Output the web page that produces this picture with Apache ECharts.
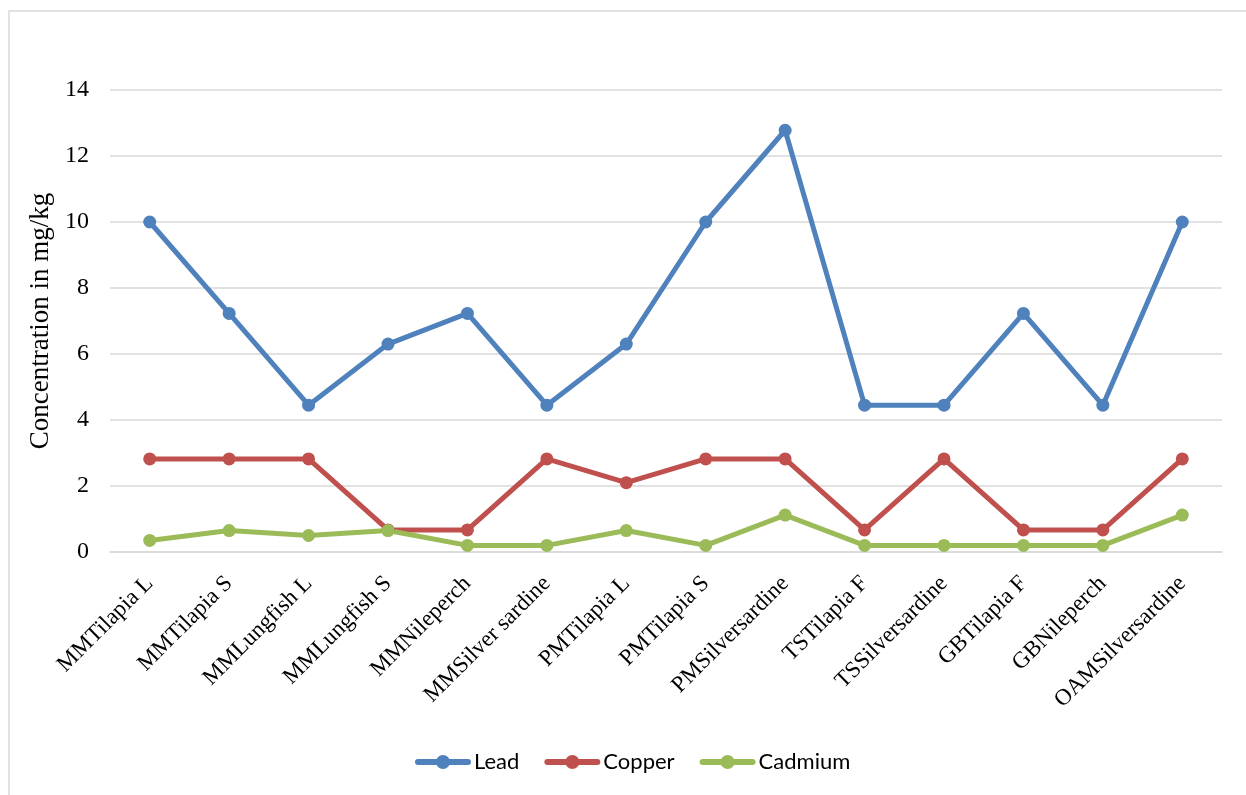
<!DOCTYPE html>
<html>
<head>
<meta charset="utf-8">
<script src="https://cdn.jsdelivr.net/npm/echarts@6/dist/echarts.min.js"></script>
<style>
  html, body { margin: 0; padding: 0; background: #fff; }
  #chart { width: 1246px; height: 795px; }
</style>
</head>
<body>
<div id="chart"></div>
<script>
// Heavy-metal concentration per fish sample (mg/kg)
const categories = [
  'MMTilapia L', 'MMTilapia S', 'MMLungfish L', 'MMLungfish S', 'MMNileperch',
  'MMSilver sardine', 'PMTilapia L', 'PMTilapia S', 'PMSilversardine',
  'TSTilapia F', 'TSSilversardine', 'GBTilapia F', 'GBNileperch', 'OAMSilversardine'
];
const lead    = [10, 7.23, 4.45, 6.3, 7.23, 4.45, 6.3, 10, 12.78, 4.45, 4.45, 7.23, 4.45, 10];
const copper  = [2.82, 2.82, 2.82, 0.67, 0.67, 2.82, 2.1, 2.82, 2.82, 0.67, 2.82, 0.67, 0.67, 2.82];
const cadmium = [0.35, 0.65, 0.5, 0.65, 0.2, 0.2, 0.65, 0.2, 1.12, 0.2, 0.2, 0.2, 0.2, 1.12];
const seriesNames = ['Lead', 'Copper', 'Cadmium'];
const yTicks  = { min: 0, max: 14, interval: 2 };

const serif = '"Liberation Serif", "Times New Roman", serif';

// Legend marker: thick rounded line with a dot in the middle (56 x 15 box)
const legendIcon = 'path://M3,4.5 L53,4.5 A3,3 0 0 1 53,10.5 L3,10.5 A3,3 0 0 1 3,4.5 Z ' +
                   'M28,0.5 A7,7 0 1 1 28,14.5 A7,7 0 1 1 28,0.5 Z';

function lineSeries(name, data, color) {
  return {
    name, type: 'line', data,
    symbol: 'circle', symbolSize: 13,
    legendIcon: legendIcon,
    lineStyle: { color, width: 5 },
    itemStyle: { color },
    emphasis: { disabled: true },
    animation: false
  };
}

const chart = echarts.init(document.getElementById('chart'), null, { renderer: 'canvas' });
chart.setOption({
  backgroundColor: '#fff',
  graphic: [{
    type: 'rect',
    shape: { x: 9, y: 11, width: 1400, height: 1000 },
    style: { fill: 'none', stroke: '#d9d9d9', lineWidth: 1.5 },
    silent: true
  }],
  grid: { left: 110, right: 24, top: 90, bottom: 243, containLabel: false },
  legend: {
    bottom: 17,
    left: 410,
    itemWidth: 56,
    itemHeight: 15,
    itemGap: 25,
    icon: legendIcon,
    textStyle: { fontFamily: 'Lato, "Open Sans", sans-serif', fontSize: 22, color: '#000', padding: [0, 0, 0, -2] },
    data: seriesNames.map(n => ({ name: n, icon: legendIcon }))
  },
  xAxis: {
    type: 'category',
    data: categories,
    boundaryGap: true,
    axisLine: { lineStyle: { color: '#d9d9d9', width: 1.5 } },
    axisTick: { show: false },
    axisLabel: {
      rotate: 45, interval: 0, margin: 28,
      fontFamily: serif, fontSize: 23, color: '#000'
    }
  },
  yAxis: {
    type: 'value',
    min: yTicks.min, max: yTicks.max, interval: yTicks.interval,
    name: 'Concentration in mg/kg',
    nameLocation: 'middle',
    nameGap: 52,
    nameTextStyle: { fontFamily: serif, fontSize: 27, color: '#000' },
    axisLine: { show: false },
    axisTick: { show: false },
    axisLabel: { fontFamily: serif, fontSize: 24, color: '#000', margin: 21 },
    splitLine: { lineStyle: { color: '#d9d9d9', width: 1.5 } }
  },
  series: [
    lineSeries(seriesNames[0], lead, '#4f81bd'),
    lineSeries(seriesNames[1], copper, '#c0504d'),
    lineSeries(seriesNames[2], cadmium, '#9bbb59')
  ]
});
</script>
</body>
</html>
